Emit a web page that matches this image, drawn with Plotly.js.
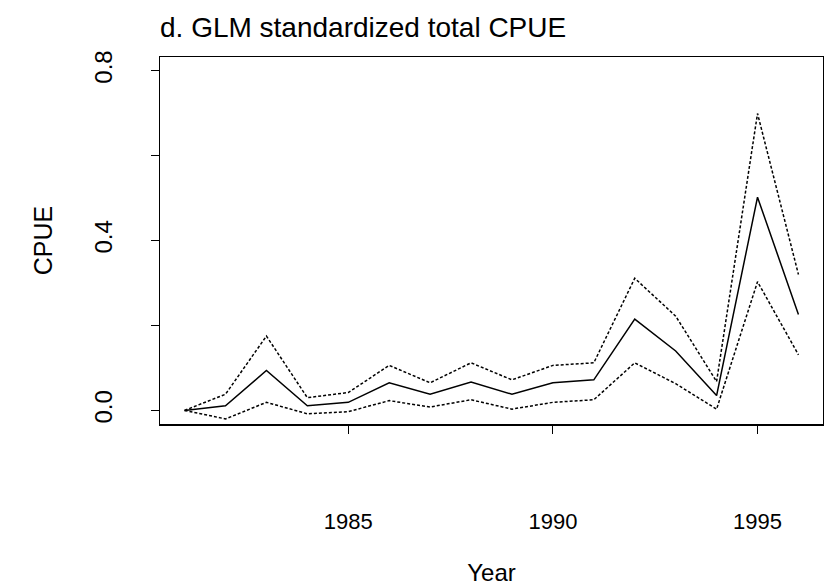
<!DOCTYPE html>
<html>
<head>
<meta charset="utf-8">
<script src="https://cdn.plot.ly/plotly-3.0.1.min.js"></script>
<style>html,body{margin:0;padding:0;background:#fff;}#chart{width:824px;height:586px;}</style>
</head>
<body>
<div id="chart"></div>
<script>
var years = [1981,1982,1983,1984,1985,1986,1987,1988,1989,1990,1991,1992,1993,1994,1995,1996];
var cpue  = [0.000,0.011,0.094,0.011,0.019,0.065,0.038,0.067,0.038,0.065,0.072,0.215,0.140,0.035,0.502,0.226];
var upper = [0.000,0.038,0.175,0.030,0.042,0.106,0.065,0.112,0.072,0.106,0.112,0.311,0.222,0.068,0.699,0.320];
var lower = [0.000,-0.020,0.019,-0.008,-0.003,0.023,0.008,0.025,0.003,0.019,0.025,0.112,0.063,0.003,0.303,0.131];
var yTickVals = [0,0.2,0.4,0.6,0.8];
var yTickText = ["0.0","","0.4","","0.8"];
var xTickVals = [1985,1990,1995];

var font = "Liberation Sans, Arial, sans-serif";
var traces = [
  {x: years, y: upper, mode: "lines", line: {color: "#000", width: 1.5, dash: "3px,2px"}},
  {x: years, y: lower, mode: "lines", line: {color: "#000", width: 1.5, dash: "3px,2px"}},
  {x: years, y: cpue, mode: "lines", line: {color: "#000", width: 1.5}}
];
var layout = {
  width: 824, height: 586,
  margin: {l: 160, r: 1, t: 57, b: 162, pad: 0},
  paper_bgcolor: "#fff", plot_bgcolor: "#fff",
  showlegend: false,
  font: {family: font, color: "#000"},
  title: {text: "d. GLM standardized total CPUE", font: {family: font, size: 28, color: "#000"},
          x: 0, xref: "paper", xanchor: "left", y: 1 - 27/586, yref: "container", yanchor: "middle"},
  xaxis: {
    range: [1980.4, 1996.6], tickvals: xTickVals, ticktext: xTickVals.map(String),
    ticks: "outside", ticklen: 8, tickwidth: 1.2, tickcolor: "#000",
    showline: true, linecolor: "#000", linewidth: 1.5, mirror: true,
    showgrid: false, zeroline: false,
    tickfont: {family: font, size: 22, color: "#000"},
    ticklabelstandoff: 69,
    title: {text: "Year", font: {family: font, size: 24, color: "#000"}, standoff: 32}
  },
  yaxis: {
    range: [-0.032, 0.832], tickvals: yTickVals, ticktext: yTickText, tickangle: -90,
    ticks: "outside", ticklen: 8, tickwidth: 1.2, tickcolor: "#000",
    showline: true, linecolor: "#000", linewidth: 1.5, mirror: true,
    showgrid: false, zeroline: false,
    tickfont: {family: font, size: 24, color: "#000"},
    ticklabelstandoff: 29,
    title: {text: "CPUE", font: {family: font, size: 25, color: "#000"}, standoff: 30}
  }
};
Plotly.newPlot("chart", traces, layout, {displayModeBar: false, staticPlot: true});
</script>
</body>
</html>
